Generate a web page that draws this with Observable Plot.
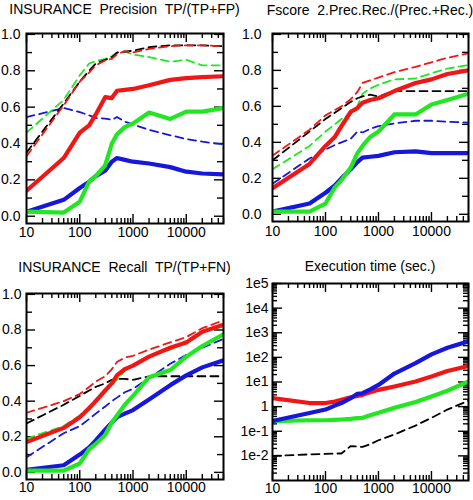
<!DOCTYPE html>
<html><head><meta charset="utf-8">
<script src="https://cdn.jsdelivr.net/npm/d3@7"></script>
<script src="https://cdn.jsdelivr.net/npm/@observablehq/plot@0.6"></script>
<style>
body{margin:0;background:#fff;}
#chart{position:relative;width:473px;height:500px;font-family:"Liberation Sans",Arial,sans-serif;overflow:hidden;}
.title{position:absolute;font-size:14px;line-height:14px;white-space:pre;transform:translateX(-50%);color:#000;}
.panel{position:absolute;}
.panel svg{display:block;overflow:visible;}
</style></head><body><div id="chart"></div>
<script>
// ---- data (x = training size, log scale) ----
const sizes = [10, 50, 100, 150, 200, 300, 400, 500, 700, 1000, 2000, 5000, 10000, 20000, 50000];

// Precision
const precRedSolid   = [0.14, 0.32, 0.46, 0.50, 0.56, 0.655, 0.65, 0.69, 0.695, 0.70, 0.72, 0.75, 0.76, 0.765, 0.77];
const precRedDash    = [0.33, 0.61, 0.74, 0.79, 0.83, 0.857, 0.866, 0.89, 0.908, 0.90, 0.92, 0.935, 0.94, 0.94, 0.935];
const precBlackDash  = [0.35, 0.62, 0.74, 0.80, 0.84, 0.86, 0.875, 0.90, 0.905, 0.91, 0.93, 0.94, 0.94, 0.94, 0.935];
const precGreenDash  = [0.46, 0.64, 0.775, 0.84, 0.853, 0.866, 0.88, 0.90, 0.905, 0.89, 0.875, 0.85, 0.86, 0.83, 0.83];
const precBlueDash   = [0.545, 0.595, 0.573, 0.555, 0.54, 0.537, 0.53, 0.546, 0.52, 0.505, 0.475, 0.445, 0.425, 0.41, 0.395];
const precBlueSolid  = [0.025, 0.09, 0.155, 0.19, 0.22, 0.25, 0.30, 0.32, 0.31, 0.30, 0.29, 0.27, 0.245, 0.235, 0.23];
const precGreenSolid = [0.025, 0.02, 0.08, 0.19, 0.22, 0.28, 0.40, 0.45, 0.49, 0.51, 0.57, 0.535, 0.575, 0.575, 0.595];

// Fscore
const fRedDash    = [0.326, 0.47, 0.55, 0.58, 0.60, 0.64, 0.68, 0.73, 0.745, 0.76, 0.79, 0.82, 0.845, 0.87, 0.895];
const fBlackDash  = [0.30, 0.46, 0.53, 0.565, 0.59, 0.625, 0.645, 0.655, 0.665, 0.655, 0.685, 0.685, 0.685, 0.685, 0.685];
const fGreenDash  = [0.25, 0.38, 0.46, 0.50, 0.53, 0.56, 0.60, 0.67, 0.70, 0.72, 0.75, 0.755, 0.785, 0.81, 0.83];
const fRedSolid   = [0.145, 0.28, 0.38, 0.43, 0.49, 0.57, 0.59, 0.62, 0.635, 0.645, 0.685, 0.73, 0.75, 0.78, 0.80];
const fBlueDash   = [0.17, 0.31, 0.36, 0.385, 0.40, 0.42, 0.46, 0.455, 0.475, 0.49, 0.505, 0.52, 0.52, 0.515, 0.51];
const fBlueSolid  = [0.015, 0.06, 0.12, 0.16, 0.20, 0.25, 0.29, 0.315, 0.32, 0.325, 0.345, 0.35, 0.34, 0.34, 0.34];
const fGreenSolid = [0.015, 0.015, 0.06, 0.15, 0.19, 0.26, 0.34, 0.38, 0.43, 0.46, 0.555, 0.555, 0.61, 0.635, 0.67];

// Recall
const recRedDash    = [0.335, 0.40, 0.44, 0.48, 0.51, 0.54, 0.58, 0.62, 0.645, 0.655, 0.69, 0.73, 0.76, 0.81, 0.855];
const recRedSolid   = [0.17, 0.25, 0.31, 0.36, 0.40, 0.46, 0.50, 0.545, 0.58, 0.60, 0.65, 0.70, 0.73, 0.79, 0.83];
const recBlackDash  = [0.275, 0.38, 0.43, 0.46, 0.48, 0.50, 0.52, 0.525, 0.525, 0.52, 0.54, 0.54, 0.54, 0.54, 0.54];
const recGreenDash  = [0.19, 0.26, 0.32, 0.37, 0.41, 0.46, 0.49, 0.52, 0.57, 0.60, 0.65, 0.69, 0.74, 0.79, 0.82];
const recBlueDash   = [0.085, 0.22, 0.26, 0.30, 0.33, 0.37, 0.40, 0.42, 0.45, 0.47, 0.53, 0.61, 0.66, 0.70, 0.75];
const recGreenSolid = [0.01, 0.01, 0.05, 0.13, 0.16, 0.21, 0.28, 0.32, 0.38, 0.43, 0.535, 0.575, 0.65, 0.71, 0.775];
const recBlueSolid  = [0.015, 0.04, 0.10, 0.14, 0.18, 0.24, 0.28, 0.31, 0.33, 0.35, 0.41, 0.49, 0.545, 0.59, 0.63];

// Execution time (sec.)
const timeRed   = [2.2, 1.4, 1.4, 1.6, 1.9, 2.4, 2.7, 3.0, 3.8, 4.8, 6.6, 10.5, 16.6, 28, 45];
const timeBlue  = [0.26, 0.55, 0.76, 1.1, 1.4, 2.2, 3.3, 3.5, 5.0, 7.6, 22, 58, 132, 245, 450];
const timeGreen = [0.26, 0.28, 0.28, 0.29, 0.30, 0.32, 0.34, 0.35, 0.45, 0.56, 0.89, 1.55, 2.6, 4.4, 10.5];
const timeBlack = [0.010, 0.0115, 0.012, 0.0125, 0.0125, 0.025, 0.024, 0.023, 0.03, 0.043, 0.074, 0.17, 0.35, 0.76, 1.74];

// ---- ticks ----
const xTickValues = [10, 100, 1000, 10000];
const xTickLabels = ["10", "100", "1000", "10000"];
const xMinorTicks = [20,30,40,50,60,70,80,90,200,300,400,500,600,700,800,900,
                     2000,3000,4000,5000,6000,7000,8000,9000,20000,30000,40000,50000];
const yTickValues = [0, 0.2, 0.4, 0.6, 0.8, 1.0];
const yTickLabels = ["0.0", "0.2", "0.4", "0.6", "0.8", "1.0"];
const yMinorTicks = [0.1, 0.3, 0.5, 0.7, 0.9];
const logTickValues = [0.01, 0.1, 1, 10, 100, 1000, 10000, 100000];
const logTickLabels = ["1e-2", "1e-1", "1", "1e1", "1e2", "1e3", "1e4", "1e5"];
const logMinorTicks = [];
[0.001, 0.01, 0.1, 1, 10, 100, 1000, 10000].forEach(d => { for (let k = 2; k <= 9; k++) logMinorTicks.push(+(k * d).toPrecision(3)); });

const titles = ["INSURANCE  Precision  TP/(TP+FP)", "Fscore  2.Prec.Rec./(Prec.+Rec.)",
                "INSURANCE  Recall  TP/(TP+FN)", "Execution time (sec.)"];

const RED = "#f01616", GREEN = "#22e622", BLUE = "#1616dc", BLACK = "#000";

function rows(vals) { return sizes.map((s, i) => ({x: s, y: vals[i]})); }

function panel(cfg) {
  const {left, top, width, height, ml, mr, mt, mb, log, series, xPad, yPad} = cfg;
  const ih = height - mt - mb, iw = width - ml - mr;
  const majV = log ? logTickValues : yTickValues;
  const majL = log ? logTickLabels : yTickLabels;
  const minV = log ? logMinorTicks : yMinorTicks;
  const yMajLen = log ? 10 : 9, yMinLen = log ? 5 : 6;
  const marks = [
    Plot.tickX(xTickValues, {x: d => d, insetTop: ih - 9, stroke: "black", strokeWidth: 1.4}),
    Plot.tickX(xTickValues, {x: d => d, insetBottom: ih - 9, stroke: "black", strokeWidth: 1.4}),
    Plot.tickX(xMinorTicks, {x: d => d, insetTop: ih - 5, stroke: "black", strokeWidth: 1.4}),
    Plot.tickX(xMinorTicks, {x: d => d, insetBottom: ih - 5, stroke: "black", strokeWidth: 1.4}),
    Plot.tickY(majV, {y: d => d, insetRight: iw - yMajLen, stroke: "black", strokeWidth: 1.4}),
    Plot.tickY(majV, {y: d => d, insetLeft: iw - yMajLen, stroke: "black", strokeWidth: 1.4}),
    Plot.tickY(minV, {y: d => d, insetRight: iw - yMinLen, stroke: "black", strokeWidth: 1.4}),
    Plot.tickY(minV, {y: d => d, insetLeft: iw - yMinLen, stroke: "black", strokeWidth: 1.4}),
    Plot.axisX(xTickValues, {anchor: "bottom", tickSize: 0, tickPadding: xPad, fontSize: 14, label: null,
      tickFormat: d => xTickLabels[xTickValues.indexOf(d)]}),
    Plot.axisY(majV, {anchor: "left", tickSize: 0, tickPadding: yPad, fontSize: 14, label: null,
      tickFormat: d => majL[majV.indexOf(d)]})
  ];
  series.forEach(s => {
    const opts = {x: "x", y: "y", stroke: s.color, strokeWidth: s.dashed ? 1.8 : 4.2, strokeLinejoin: "round", clip: true};
    if (s.dashed) opts.strokeDasharray = "8,5";
    marks.push(Plot.line(rows(s.values), opts));
  });
  marks.push(Plot.frame({stroke: "black", strokeWidth: 2}));
  const svg = Plot.plot({
    width, height, marginLeft: ml, marginRight: mr, marginTop: mt, marginBottom: mb,
    style: {fontFamily: "'Liberation Sans', Arial, sans-serif", fontSize: "14px", color: "black", background: "white", overflow: "visible"},
    x: {type: "log", domain: [10, 50000], label: null},
    y: log ? {type: "log", domain: [0.001, 100000], label: null} : {type: "linear", domain: [-0.04, 1.005], label: null},
    marks
  });
  const div = document.createElement("div");
  div.className = "panel";
  div.style.left = left + "px"; div.style.top = top + "px";
  div.appendChild(svg);
  document.getElementById("chart").appendChild(div);
}

function addTitle(text, cx, top) {
  const t = document.createElement("div");
  t.className = "title";
  t.textContent = text;
  t.style.left = cx + "px"; t.style.top = top + "px";
  document.getElementById("chart").appendChild(t);
}

panel({left: 0, top: 20, width: 236, height: 230, ml: 26, mr: 13, mt: 13, mb: 27, log: false, xPad: 4, yPad: 6,
  series: [
    {values: precBlueDash, color: BLUE, dashed: true},
    {values: precGreenDash, color: GREEN, dashed: true},
    {values: precBlackDash, color: BLACK, dashed: true},
    {values: precRedDash, color: RED, dashed: true},
    {values: precBlueSolid, color: BLUE},
    {values: precGreenSolid, color: GREEN},
    {values: precRedSolid, color: RED}
  ]});
panel({left: 236, top: 20, width: 237, height: 230, ml: 36, mr: 5, mt: 13, mb: 29, log: false, xPad: 5, yPad: 11,
  series: [
    {values: fBlueDash, color: BLUE, dashed: true},
    {values: fGreenDash, color: GREEN, dashed: true},
    {values: fBlackDash, color: BLACK, dashed: true},
    {values: fRedDash, color: RED, dashed: true},
    {values: fBlueSolid, color: BLUE},
    {values: fGreenSolid, color: GREEN},
    {values: fRedSolid, color: RED}
  ]});
panel({left: 0, top: 270, width: 236, height: 230, ml: 26, mr: 13, mt: 23, mb: 21, log: false, xPad: 3, yPad: 5,
  series: [
    {values: recBlueDash, color: BLUE, dashed: true},
    {values: recGreenDash, color: GREEN, dashed: true},
    {values: recBlackDash, color: BLACK, dashed: true},
    {values: recRedDash, color: RED, dashed: true},
    {values: recBlueSolid, color: BLUE},
    {values: recGreenSolid, color: GREEN},
    {values: recRedSolid, color: RED}
  ]});
panel({left: 236, top: 270, width: 237, height: 230, ml: 36, mr: 5, mt: 13, mb: 20, log: true, xPad: 3, yPad: 4,
  series: [
    {values: timeBlack, color: BLACK, dashed: true},
    {values: timeGreen, color: GREEN},
    {values: timeRed, color: RED},
    {values: timeBlue, color: BLUE}
  ]});

addTitle(titles[0], 124.5, 2);
addTitle(titles[1], 370, 3);
addTitle(titles[2], 124.5, 260);
addTitle(titles[3], 370, 259);
</script></body></html>
